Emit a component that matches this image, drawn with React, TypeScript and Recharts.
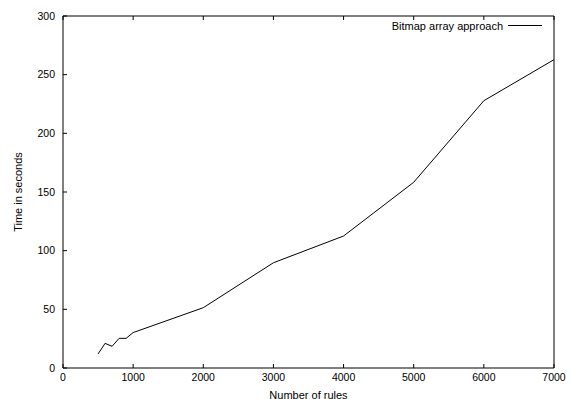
import React from "react";
import { LineChart, Line, XAxis, YAxis, Legend } from "recharts";

const ruleCounts = [500, 600, 700, 800, 900, 1000, 2000, 3000, 4000, 5000, 6000, 7000];
const timeSeconds = [12, 21, 18.5, 25.3, 25.3, 30.2, 51.4, 89.7, 112.5, 158.3, 227.8, 262.8];
const xTicks = [0, 1000, 2000, 3000, 4000, 5000, 6000, 7000];
const yTicks = [0, 50, 100, 150, 200, 250, 300];
const seriesName = "Bitmap array approach";

const data = ruleCounts.map((r, i) => ({ rules: r, time: timeSeconds[i] }));

const FONT = "'Liberation Sans', Arial, Helvetica, sans-serif";
const tickStyle = { fontSize: 10.5, fill: "#000", fontFamily: FONT };
const emptyTick = () => <g />;

const LegendContent = (props: any) => {
  const p = props.payload && props.payload[0];
  const label = p ? p.value : seriesName;
  return (
    <svg width={570} height={40} style={{ display: "block" }}>
      <text
        x={503}
        y={25.5}
        textAnchor="end"
        dominantBaseline="central"
        fontSize={11}
        fontFamily={FONT}
        fill="#000"
      >
        {label}
      </text>
      <line x1={508} x2={542} y1={25.5} y2={25.5} stroke="#000" strokeWidth={1} />
    </svg>
  );
};

export default function App() {
  return (
    <div style={{ position: "absolute", left: 0, top: 0, background: "#fff" }}>
      <LineChart
        width={570}
        height={399}
        data={data}
        margin={{ top: 15, right: 15, bottom: 0, left: 0 }}
      >
        <XAxis
          dataKey="rules"
          type="number"
          domain={[0, 7000]}
          ticks={xTicks}
          allowDataOverflow
          height={31}
          stroke="#000"
          tick={tickStyle}
          tickSize={-4}
          tickMargin={10}
          label={{
            content: (lp: any) => {
              const vb = lp.viewBox || {};
              return (
                <text
                  x={vb.x + vb.width / 2}
                  y={394.5}
                  textAnchor="middle"
                  dominantBaseline="central"
                  fontSize={11}
                  fontFamily={FONT}
                  fill="#000"
                >
                  Number of rules
                </text>
              );
            },
          }}
        />
        <XAxis
          xAxisId="top"
          dataKey="rules"
          type="number"
          domain={[0, 7000]}
          ticks={xTicks}
          orientation="top"
          height={1}
          stroke="#000"
          tick={emptyTick}
          tickSize={-4}
        />
        <YAxis
          type="number"
          domain={[0, 300]}
          ticks={yTicks}
          width={63}
          stroke="#000"
          tick={tickStyle}
          tickSize={-4}
          tickMargin={12}
          label={{
            content: (lp: any) => {
              const vb = lp.viewBox || {};
              const cy = vb.y + vb.height / 2;
              return (
                <text
                  x={18}
                  y={cy}
                  transform={`rotate(-90, 18, ${cy})`}
                  textAnchor="middle"
                  dominantBaseline="central"
                  fontSize={11}
                  fontFamily={FONT}
                  fill="#000"
                >
                  Time in seconds
                </text>
              );
            },
          }}
        />
        <YAxis
          yAxisId="right"
          orientation="right"
          type="number"
          domain={[0, 300]}
          ticks={yTicks}
          width={1}
          stroke="#000"
          tick={emptyTick}
          tickSize={-4}
        />
        <Legend
          layout="vertical"
          align="center"
          verticalAlign="middle"
          wrapperStyle={{ left: 0, top: 0, width: 570, height: 40 }}
          content={LegendContent}
        />
        <Line
          type="linear"
          dataKey="time"
          name={seriesName}
          stroke="#000"
          strokeWidth={1}
          dot={false}
          activeDot={false}
          isAnimationActive={false}
        />
      </LineChart>
    </div>
  );
}
